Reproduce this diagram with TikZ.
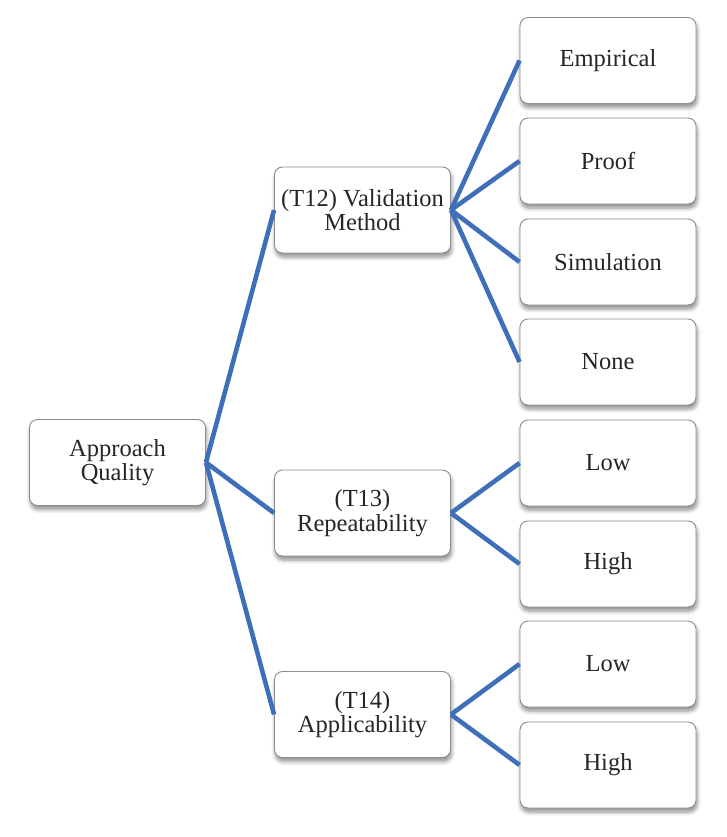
\documentclass[tikz,border=0pt]{standalone}
\usepackage{fontspec}
\setmainfont{Liberation Serif}
\usetikzlibrary{shadows.blur}
\definecolor{linkblue}{HTML}{3F6FB8}
\definecolor{boxborder}{HTML}{8C8C8C}
\tikzset{
  box/.style={draw=boxborder, line width=0.9pt, fill=white, rounded corners=8pt,
    minimum width=176pt, minimum height=86pt, align=center, inner sep=2pt,
    font=\fontsize{24.5}{24.5}\selectfont, text=black!85,
    blur shadow={shadow xshift=1pt, shadow yshift=-4pt, shadow blur steps=6, shadow opacity=45, shadow blur radius=4pt}},
  link/.style={draw=linkblue, line width=4.6pt}
}
\begin{document}
\begin{tikzpicture}[x=1pt,y=-1pt]
\useasboundingbox (0,0) rectangle (727,837);
\node[box] (aq) at (117.5,462.5) {Approach\\Quality};
\node[box] (t12) at (362.5,210) {(T12) Validation\\Method};
\node[box] (t13) at (362.5,513) {(T13)\\Repeatability};
\node[box] (t14) at (362.5,714.5) {(T14)\\Applicability};
\node[box] (emp) at (608,60.5) {Empirical};
\node[box] (proof) at (608,161) {Proof};
\node[box] (sim) at (608,262) {Simulation};
\node[box] (none) at (608,362) {None};
\node[box] (low1) at (608,463) {Low};
\node[box] (high1) at (608,564) {High};
\node[box] (low2) at (608,664) {Low};
\node[box] (high2) at (608,765) {High};
\draw[link] (aq.east) -- (t12.west);
\draw[link] (aq.east) -- (t13.west);
\draw[link] (aq.east) -- (t14.west);
\draw[link] (t12.east) -- (emp.west);
\draw[link] (t12.east) -- (proof.west);
\draw[link] (t12.east) -- (sim.west);
\draw[link] (t12.east) -- (none.west);
\draw[link] (t13.east) -- (low1.west);
\draw[link] (t13.east) -- (high1.west);
\draw[link] (t14.east) -- (low2.west);
\draw[link] (t14.east) -- (high2.west);
\end{tikzpicture}
\end{document}
